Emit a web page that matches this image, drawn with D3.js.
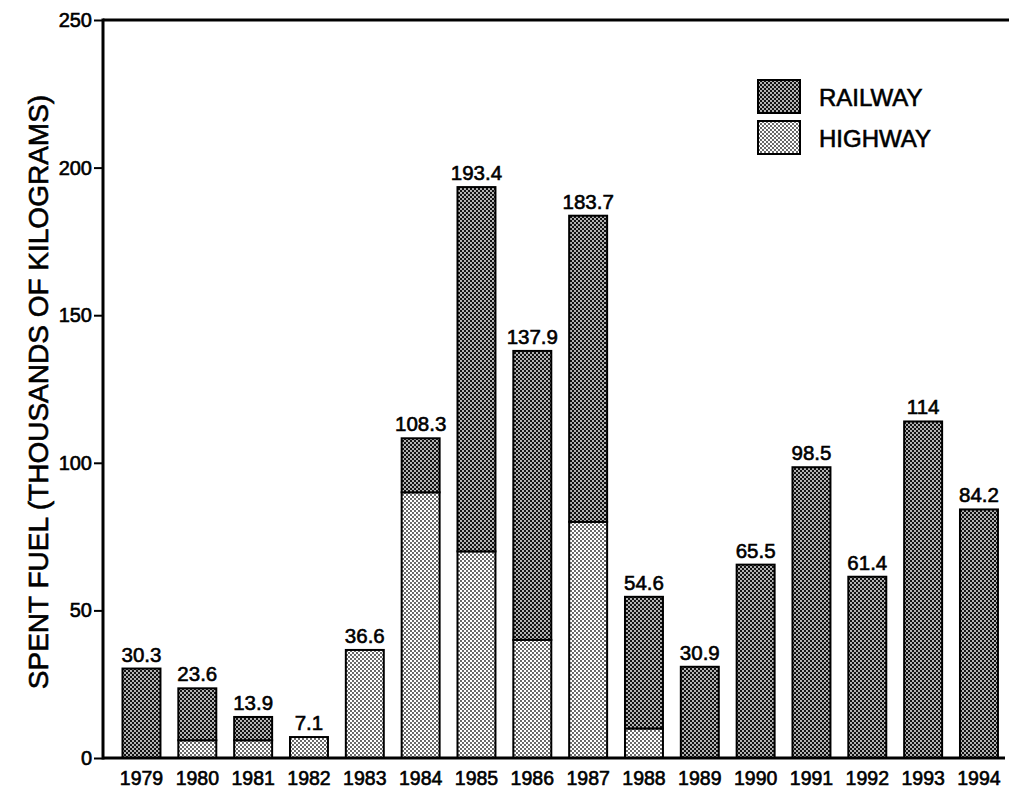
<!DOCTYPE html>
<html>
<head>
<meta charset="utf-8">
<script src="https://cdn.jsdelivr.net/npm/d3@7"></script>
<style>
  html, body { margin: 0; padding: 0; background: #fff; }
  svg { display: block; font-family: "Liberation Sans", Arial, Helvetica, sans-serif; }
  text { stroke: #000; stroke-width: 0.6px; }
</style>
</head>
<body>
<svg id="chart" width="1009" height="792"></svg>
<script>
const years    = ["1979","1980","1981","1982","1983","1984","1985","1986","1987","1988","1989","1990","1991","1992","1993","1994"];
const highway  = [0, 6, 6, 7.1, 36.6, 90, 70, 40, 80, 10, 0, 0, 0, 0, 0, 0];
const totals   = [30.3, 23.6, 13.9, 7.1, 36.6, 108.3, 193.4, 137.9, 183.7, 54.6, 30.9, 65.5, 98.5, 61.4, 114, 84.2];
const totalLabels = ["30.3","23.6","13.9","7.1","36.6","108.3","193.4","137.9","183.7","54.6","30.9","65.5","98.5","61.4","114","84.2"];
const railway  = totals.map((t, i) => Math.round((t - highway[i]) * 10) / 10);
const yTicks   = [0, 50, 100, 150, 200, 250];
const seriesNames = ["RAILWAY", "HIGHWAY"];

(function () {
const svg = d3.select("#chart");
const mLeft = 103, mTop = 20, mBottom = 758, mRight = 1005;

// patterns
const defs = svg.append("defs");
const pr = defs.append("pattern").attr("id", "railPat").attr("patternUnits", "userSpaceOnUse")
  .attr("width", 4).attr("height", 4);
pr.append("rect").attr("width", 4).attr("height", 4).attr("fill", "#111");
pr.append("circle").attr("cx", 1).attr("cy", 1).attr("r", 0.9).attr("fill", "#fff");
pr.append("circle").attr("cx", 3).attr("cy", 3).attr("r", 0.9).attr("fill", "#fff");

const ph = defs.append("pattern").attr("id", "hwyPat").attr("patternUnits", "userSpaceOnUse")
  .attr("width", 4).attr("height", 4);
ph.append("rect").attr("width", 4).attr("height", 4).attr("fill", "#fff");
ph.append("circle").attr("cx", 1).attr("cy", 1).attr("r", 0.9).attr("fill", "#222");
ph.append("circle").attr("cx", 3).attr("cy", 3).attr("r", 0.9).attr("fill", "#222");

const x = d3.scaleBand().domain(years).range([105.75, 1014.7]).paddingInner(0.32).paddingOuter(0.3);
const y = d3.scaleLinear().domain([0, 250]).range([mBottom, mTop]);

const data = years.map((yr, i) => ({ yr, h: highway[i], r: railway[i], t: totals[i], lab: totalLabels[i] }));

// highway segments
svg.append("g").selectAll("rect").data(data.filter(d => d.h > 0)).join("rect")
  .attr("x", d => x(d.yr)).attr("width", x.bandwidth())
  .attr("y", d => y(d.h)).attr("height", d => y(0) - y(d.h))
  .attr("fill", "url(#hwyPat)").attr("stroke", "#000").attr("stroke-width", 2);

// railway segments
svg.append("g").selectAll("rect").data(data.filter(d => d.r > 0)).join("rect")
  .attr("x", d => x(d.yr)).attr("width", x.bandwidth())
  .attr("y", d => y(d.h + d.r)).attr("height", d => y(d.h) - y(d.h + d.r))
  .attr("fill", "url(#railPat)").attr("stroke", "#000").attr("stroke-width", 2);

// value labels
svg.append("g").selectAll("text").data(data).join("text")
  .attr("x", d => x(d.yr) + x.bandwidth() / 2)
  .attr("y", d => y(d.t) - 7)
  .attr("text-anchor", "middle").attr("font-size", 20.5).attr("fill", "#000")
  .text(d => d.lab);

// y axis
const yAxis = svg.append("g").attr("transform", `translate(${mLeft},0)`)
  .call(d3.axisLeft(y).tickValues(yTicks).tickSize(9).tickPadding(2));
yAxis.select(".domain").remove();
yAxis.selectAll(".tick line").attr("stroke", "#000").attr("stroke-width", 2);
yAxis.selectAll(".tick text").attr("font-size", 20).attr("fill", "#000")
  .attr("font-family", "Liberation Sans, Arial, sans-serif");

// x axis labels
const xAxis = svg.append("g").attr("transform", `translate(0,${mBottom})`)
  .call(d3.axisBottom(x).tickSize(0).tickPadding(13));
xAxis.select(".domain").remove();
xAxis.selectAll(".tick text").attr("font-size", 19.5).attr("fill", "#000")
  .attr("font-family", "Liberation Sans, Arial, sans-serif");

// frame lines
svg.append("line").attr("x1", mLeft).attr("x2", mLeft).attr("y1", mTop - 1.5).attr("y2", mBottom + 1.5)
  .attr("stroke", "#000").attr("stroke-width", 3);
svg.append("line").attr("x1", mLeft).attr("x2", 1009).attr("y1", mTop).attr("y2", mTop)
  .attr("stroke", "#000").attr("stroke-width", 3);
svg.append("line").attr("x1", mLeft).attr("x2", mRight).attr("y1", mBottom).attr("y2", mBottom)
  .attr("stroke", "#000").attr("stroke-width", 3);

// y title
svg.append("text")
  .attr("transform", `translate(48,392) rotate(-90)`)
  .attr("text-anchor", "middle").attr("font-size", 28).attr("fill", "#000")
  .text("SPENT FUEL (THOUSANDS OF KILOGRAMS)");

// legend
const legend = svg.append("g");
const pats = ["url(#railPat)", "url(#hwyPat)"];
seriesNames.forEach((name, i) => {
  const g = legend.append("g").attr("transform", `translate(758,${80 + i * 41})`);
  g.append("rect").attr("width", 42).attr("height", 33).attr("fill", pats[i])
    .attr("stroke", "#000").attr("stroke-width", 2);
  g.append("text").attr("x", 61).attr("y", 26).attr("font-size", 24).attr("fill", "#000").text(name);
});
})();
</script>
</body>
</html>
